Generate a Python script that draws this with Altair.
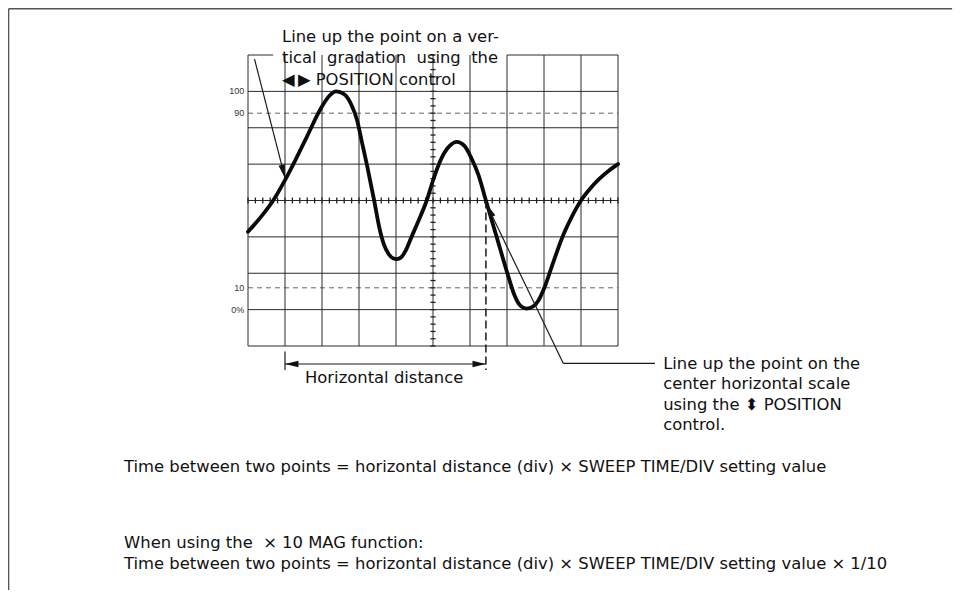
import altair as alt
import pandas as pd
import numpy as np

# ---------------- data (graticule divisions: x 0..10, y 0..8) ----------------
WAVE_X = [0.0, 0.35, 0.68, 1.0, 1.3, 1.59, 1.99, 2.2, 2.38, 2.6, 2.8, 2.95, 3.08,
          3.21, 3.41, 3.55, 3.67, 3.8, 3.92, 4.02, 4.13, 4.25, 4.42, 4.62, 4.83,
          5.0, 5.14, 5.3, 5.45, 5.64, 5.85, 6.02, 6.23, 6.43, 6.72, 7.04, 7.2,
          7.35, 7.53, 7.7, 7.85, 8.01, 8.25, 8.52, 8.75, 9.0, 9.25, 9.5, 9.75, 10.0]
WAVE_Y = [3.14, 3.55, 4.0, 4.56, 5.15, 5.75, 6.57, 6.88, 7.0, 6.92, 6.62, 6.2, 5.6,
          5.0, 4.0, 3.25, 2.8, 2.53, 2.41, 2.39, 2.43, 2.6, 3.0, 3.47, 4.0,
          4.55, 4.95, 5.3, 5.5, 5.61, 5.5, 5.2, 4.7, 4.0, 3.0, 1.9, 1.4,
          1.12, 1.03, 1.08, 1.25, 1.6, 2.3, 3.05, 3.55, 4.0, 4.33, 4.6, 4.82, 5.0]

PCT_LABELS = ["100", "90", "10", "0%"]
PCT_LEVELS = [7.0, 6.4, 1.6, 1.0]

TOP_NOTE = ["Line up the point on a ver-",
            "tical\u00a0 gradation\u00a0 using\u00a0 the",
            "\u25c0\u2009\u25b6 POSITION control"]
RIGHT_NOTE = ["Line up the point on the",
              "center horizontal scale",
              "using the \u2b0d POSITION",
              "control."]
BOTTOM_NOTE = ["Time between two points = horizontal distance (div) \u00d7 SWEEP TIME/DIV setting value",
               "When using the \u00a0\u00d7 10 MAG function:",
               "Time between two points = horizontal distance (div) \u00d7 SWEEP TIME/DIV setting value \u00d7 1/10"]
HDIST_LABEL = "Horizontal distance"

# ---------------- scales ----------------
XS = alt.Scale(domain=[0, 10], range=[240, 610], zero=False, nice=False)
YS = alt.Scale(domain=[0, 8], range=[338, 47], zero=False, nice=False)
PX_X, PX_Y = 37.0, 36.375
FONT = "DejaVu Sans"
INK = "#111111"


def X(f):
    return alt.X(f, type="quantitative", scale=XS, axis=None)


def Y(f):
    return alt.Y(f, type="quantitative", scale=YS, axis=None)


def rules(rows, **kw):
    df = pd.DataFrame(rows, columns=["x", "y", "x2", "y2"])
    return alt.Chart(df).mark_rule(**kw).encode(
        x=X("x"), y=Y("y"), x2=alt.X2("x2"), y2=alt.Y2("y2"))


def texts(lines, x0, ys, size=16.4, align="left", font=FONT, color=INK):
    df = pd.DataFrame({"t": lines, "x": [x0] * len(lines), "y": ys})
    return alt.Chart(df).mark_text(align=align, baseline="alphabetic", font=font,
                                   fontSize=size, color=color).encode(
        x=X("x"), y=Y("y"), text="t:N")


# ---------------- graticule ----------------
grid_rows = [(d, 0, d, 8) for d in range(11)]
grid_rows += [(0, v, 10, v) for v in range(8)]
grid_rows += [(0, 8, 0.68, 8), (7.0, 8, 10, 8)]
grid = rules(grid_rows, color="#2a2a2a", strokeWidth=1.0)

dashed = rules([(0, 6.4, 10, 6.4), (0, 1.6, 10, 1.6)],
               color="#555555", strokeWidth=0.9, strokeDash=[5, 4])

minor = np.round(np.arange(0, 10.001, 0.2), 2)
minor_v = np.round(np.arange(0, 8.001, 0.2), 2)
tick_rows = [(m, 3.92, m, 4.08) for m in minor]
tick_rows += [(4.93, m, 5.07, m) for m in minor_v]
ticks = rules(tick_rows, color="#222222", strokeWidth=1.3)

pct = alt.Chart(pd.DataFrame({"t": PCT_LABELS, "x": [-0.1] * 4, "y": PCT_LEVELS})).mark_text(
    align="right", baseline="middle", font="Liberation Sans", fontSize=9, color="#333333"
).encode(x=X("x"), y=Y("y"), text="t:N")

# ---------------- waveform ----------------
wave = alt.Chart(pd.DataFrame({"x": WAVE_X, "y": WAVE_Y, "o": range(len(WAVE_X))})).mark_line(
    color="#0a0a0a", strokeWidth=3.8, interpolate="monotone", strokeCap="round"
).encode(x=X("x"), y=Y("y"), order="o:Q")

# ---------------- annotations ----------------
LEAD1 = [(0.176, 7.885), (1.0, 4.62)]
LEAD2 = [(11.0, -0.475), (8.52, -0.475), (6.45, 3.89)]
HD_Y = -0.495

leaders = rules([(LEAD1[0][0], LEAD1[0][1], LEAD1[1][0], LEAD1[1][1]),
                 (LEAD2[0][0], LEAD2[0][1], LEAD2[1][0], LEAD2[1][1]),
                 (LEAD2[1][0], LEAD2[1][1], LEAD2[2][0], LEAD2[2][1]),
                 (1.0, -0.15, 1.0, -0.66),
                 (1.0, HD_Y, 6.43, HD_Y)],
                color="#1a1a1a", strokeWidth=1.2)

vdash = rules([(6.43, 4.0, 6.43, -0.66)], color="#1a1a1a", strokeWidth=1.5, strokeDash=[8, 4])


def ang(p_from, p_to):
    dx = (p_to[0] - p_from[0]) * PX_X
    dy = (p_to[1] - p_from[1]) * PX_Y
    return float(np.degrees(np.arctan2(dx, dy)) % 360)


heads = pd.DataFrame({
    "x": [LEAD1[1][0], LEAD2[2][0], 1.0, 6.43],
    "y": [LEAD1[1][1], LEAD2[2][1], HD_Y, HD_Y],
    "a": [ang(LEAD1[0], LEAD1[1]), ang(LEAD2[1], LEAD2[2]), 270.0, 90.0],
})
arrowheads = alt.Chart(heads).mark_point(
    shape="M0,0 L0.36,1.5 L-0.36,1.5 Z", filled=True, size=320, color="#111111",
    opacity=1, strokeWidth=0
).encode(x=X("x"), y=Y("y"), angle=alt.Angle("a:Q", scale=None))

# frame of the page
frame = rules([(-6.47, 9.27, 19.03, 9.27), (-6.47, 9.27, -6.47, -6.75)],
              color="#555555", strokeWidth=1.4)

top_txt = texts(TOP_NOTE, 0.92, [8.365, 7.775, 7.184])
right_txt = texts(RIGHT_NOTE, 11.22, [-0.632, -1.195, -1.758, -2.321])
bottom_txt = texts(BOTTOM_NOTE, -3.35, [-3.462, -5.563, -6.14])
hd_txt = texts([HDIST_LABEL], 3.68, [-1.03], align="center")

chart = alt.layer(
    frame, dashed, grid, ticks, pct, wave, vdash, leaders, arrowheads,
    top_txt, right_txt, bottom_txt, hd_txt
).properties(
    width=955, height=582, padding=0,
    autosize=alt.AutoSizeParams(type="none"),
    background="white",
).configure_view(stroke=None)

chart.save("out.html", embed_options={"renderer": "svg", "actions": False})
